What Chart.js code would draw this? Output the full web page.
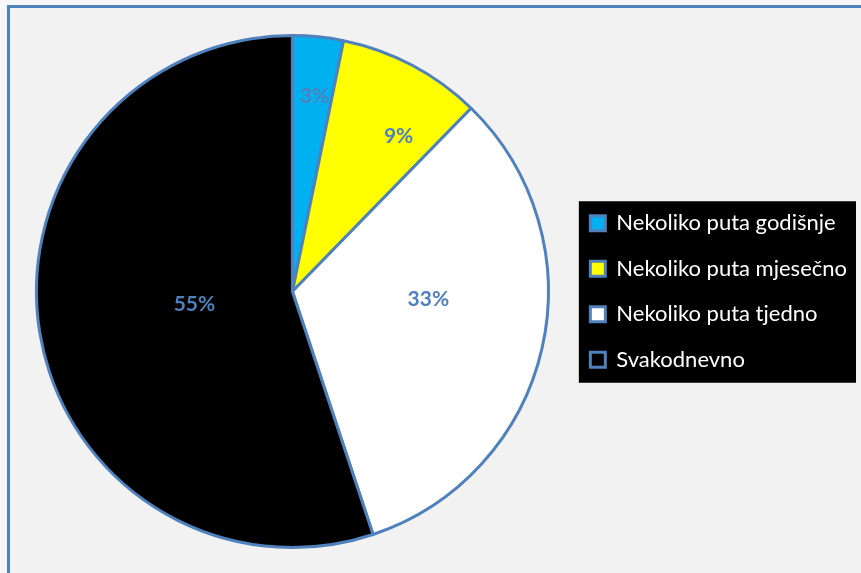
<!DOCTYPE html>
<html>
<head>
<meta charset="utf-8">
<script src="https://cdn.jsdelivr.net/npm/chart.js@4.4.1/dist/chart.umd.min.js"></script>
<style>
  html, body { margin: 0; padding: 0; background: #f7f7f7; overflow: hidden; }
  #frame {
    position: absolute; left: 7px; top: 5px; width: 900px; height: 620px;
    background: #f2f2f2; border: 3px solid #4f81bd;
  }
  #wrap { position: absolute; left: 0; top: 0; width: 861px; height: 573px; }
</style>
</head>
<body>
<div id="frame"></div>
<div id="wrap"><canvas id="pieChart" width="861" height="573"></canvas></div>
<script>
// --- Data ---
const categories = ['Nekoliko puta godišnje', 'Nekoliko puta mjesečno', 'Nekoliko puta tjedno', 'Svakodnevno'];
const shares = [3.2, 9.1, 32.6, 55.1];
const sliceColors = ['#00b0f0', '#ffff00', '#ffffff', '#000000'];

// label placement (fraction of radius, angle nudge in degrees)
const labelRadius = [0.766, 0.734, 0.532, 0.386];
const labelNudge = [0.7, 6.5, -9.6, 1.6];

const LEGEND_FONT = 22;
const LEGEND_BOX = 15;

// --- Plugin: percentage labels on slices ---
const sliceLabels = {
    id: 'sliceLabels',
    afterDatasetsDraw(chart) {
        const ctx = chart.ctx;
        const meta = chart.getDatasetMeta(0);
        const total = shares.reduce((a, b) => a + b, 0);
        ctx.save();
        ctx.font = 'bold 21px Lato';
        ctx.fillStyle = '#4f81bd';
        ctx.textAlign = 'center';
        ctx.textBaseline = 'middle';
        meta.data.forEach(function(arc, i) {
            const mid = (arc.startAngle + arc.endAngle) / 2 + labelNudge[i] * Math.PI / 180;
            const r = arc.outerRadius * labelRadius[i];
            const text = Math.round(shares[i] / total * 100) + '%';
            ctx.fillText(text, arc.x + Math.cos(mid) * r, arc.y + Math.sin(mid) * r);
        });
        ctx.restore();
    }
};

// --- Plugin: black box behind the legend ---
const legendBox = {
    id: 'legendBox',
    beforeDraw(chart) {
        const boxes = chart.legend && chart.legend.legendHitBoxes;
        if (!boxes || !boxes.length) return;
        const ctx = chart.ctx;
        ctx.save();
        ctx.font = LEGEND_FONT + 'px Lato';
        let l = Infinity, t = Infinity, r = -Infinity, b = -Infinity;
        boxes.forEach(function(h, i) {
            const textEnd = h.left + LEGEND_BOX + LEGEND_FONT / 2 + ctx.measureText(categories[i]).width;
            l = Math.min(l, h.left); t = Math.min(t, h.top);
            r = Math.max(r, textEnd); b = Math.max(b, h.top + h.height);
        });
        ctx.fillStyle = '#000000';
        ctx.fillRect(l - 11.5, t - 11, (r + 9) - (l - 11.5), (b - t) + 23);
        ctx.restore();
    }
};

new Chart(document.getElementById('pieChart'), {
    type: 'pie',
    data: {
        labels: categories,
        datasets: [{
            data: shares,
            backgroundColor: sliceColors,
            borderColor: '#4f81bd',
            borderWidth: 3
        }]
    },
    options: {
        responsive: false,
        animation: false,
        layout: { padding: { left: 18, top: 34, bottom: 24, right: 4 } },
        plugins: {
            tooltip: { enabled: false },
            legend: {
                position: 'right',
                labels: {
                    color: '#ffffff',
                    font: { family: 'Lato', size: LEGEND_FONT },
                    boxWidth: LEGEND_BOX,
                    boxHeight: LEGEND_BOX,
                    padding: 23.5
                }
            }
        }
    },
    plugins: [legendBox, sliceLabels]
});
</script>
</body>
</html>
